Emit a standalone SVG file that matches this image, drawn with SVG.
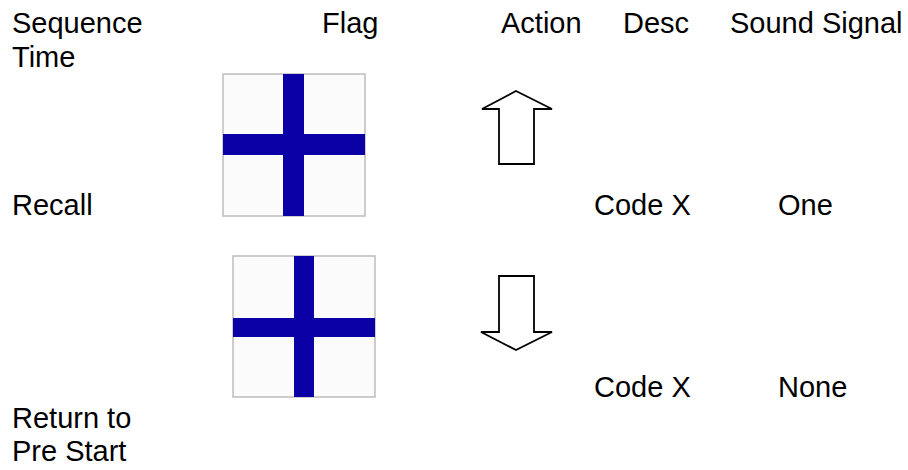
<svg xmlns="http://www.w3.org/2000/svg" width="908" height="470" viewBox="0 0 908 470">
<style>
text{font-family:"Liberation Sans",Arial,sans-serif;font-size:29px;fill:#000}
.bg{fill:#fbfbfb;stroke:#bdbdbd;stroke-width:1.5}
.cross{fill:#0a00a6}
.arr{fill:#fff;stroke:#000;stroke-width:1.8;stroke-linejoin:miter}
</style>
<rect width="908" height="470" fill="#fff"/>
<g id="headers">
<text x="12" y="33">Sequence<tspan x="12" y="67">Time</tspan></text>
<text x="322" y="33">Flag</text>
<text x="501" y="33">Action</text>
<text x="623" y="33">Desc</text>
<text x="730" y="33">Sound Signal</text>
</g>
<g id="row1">
<text x="12" y="215">Recall</text>
<text x="594" y="215">Code X</text>
<text x="778" y="215">One</text>
</g>
<g id="flag1">
<rect class="bg" x="223" y="74" width="142" height="142"/>
<rect class="cross" x="283" y="74" width="21" height="142"/>
<rect class="cross" x="223" y="134" width="142" height="21"/>
</g>
<g id="flag2">
<rect class="bg" x="233" y="256" width="142" height="141"/>
<rect class="cross" x="294" y="256" width="20" height="141"/>
<rect class="cross" x="233" y="318" width="142" height="19"/>
</g>
<g id="connectors">
<polygon id="arrow-up" class="arr" points="516,91 552,109 534,109 534,164 499,164 499,109 482,109"/>
<polygon id="arrow-down" class="arr" points="499,276 534,276 534,332 552,332 516,350 481,332 499,332"/>
</g>
<g id="row2">
<text x="594" y="397">Code X</text>
<text x="778" y="397">None</text>
<text x="12" y="428">Return to<tspan x="12" y="461">Pre Start</tspan></text>
</g>
</svg>
